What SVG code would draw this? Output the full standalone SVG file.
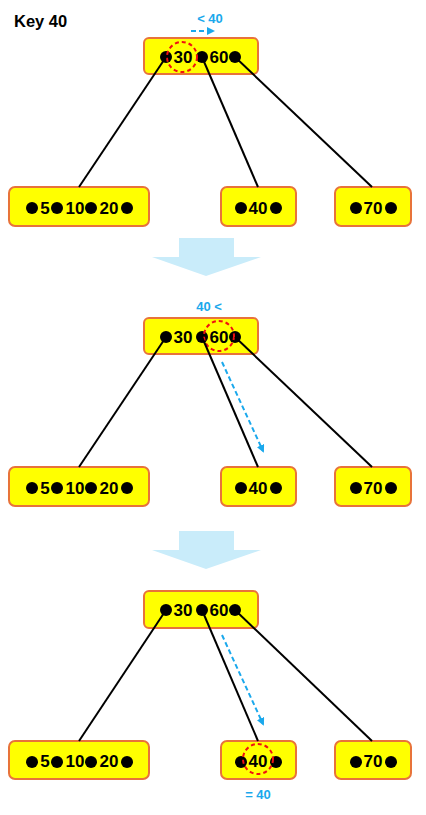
<svg xmlns="http://www.w3.org/2000/svg" width="426" height="815" viewBox="0 0 426 815">
<style>
.node{fill:#FFFF00;stroke:#E8733A;stroke-width:2}
.edge{stroke:#000;stroke-width:2;fill:none}
.dot{fill:#000}
.t{font-family:"Liberation Sans",Arial,sans-serif;font-weight:bold;font-size:17px;fill:#000;text-anchor:middle}
.lbl{font-family:"Liberation Sans",Arial,sans-serif;font-weight:bold;font-size:13px;fill:#1AA8EC;text-anchor:middle}
.hl{fill:none;stroke:#F01010;stroke-width:2;stroke-dasharray:4,3}
.ptr{stroke:#1AA8EC;stroke-width:2;stroke-dasharray:5,3;fill:none}
.big{fill:#C9ECFA}
</style>
<defs>
<marker id="ah" markerWidth="8" markerHeight="8" refX="6" refY="4" orient="auto" markerUnits="userSpaceOnUse">
<path d="M0,0 L8,4 L0,8 Z" fill="#1AA8EC"/>
</marker>
</defs>
<rect width="426" height="815" fill="#fff"/>
<text x="14" y="27" font-family="Liberation Sans,Arial,sans-serif" font-weight="bold" font-size="16.5">Key 40</text>

<!-- Panel 1 -->
<g id="p1-root">
<rect class="node" x="144" y="38" width="114" height="36" rx="5"/>
<circle class="dot" cx="166" cy="57" r="6"/><circle class="dot" cx="202" cy="57" r="6"/><circle class="dot" cx="235" cy="57" r="6"/>
<text class="t" x="183" y="63">30</text><text class="t" x="219" y="63">60</text>
<circle class="hl" cx="182" cy="57" r="15"/>
</g>
<g id="p1-leaf1">
<rect class="node" x="9" y="187" width="140" height="39" rx="6"/>
<circle class="dot" cx="32" cy="208" r="6"/><circle class="dot" cx="57" cy="208" r="6"/><circle class="dot" cx="91" cy="208" r="6"/><circle class="dot" cx="127" cy="208" r="6"/>
<text class="t" x="45" y="214">5</text><text class="t" x="75" y="214">10</text><text class="t" x="109" y="214">20</text>
</g>
<g id="p1-leaf2">
<rect class="node" x="221" y="187" width="75" height="39" rx="6"/>
<circle class="dot" cx="241" cy="208" r="6"/><circle class="dot" cx="276" cy="208" r="6"/>
<text class="t" x="258" y="214">40</text>
</g>
<g id="p1-leaf3">
<rect class="node" x="335" y="187" width="76" height="39" rx="6"/>
<circle class="dot" cx="356" cy="208" r="6"/><circle class="dot" cx="391" cy="208" r="6"/>
<text class="t" x="373" y="214">70</text>
</g>
<g id="connectors1">
<line class="edge" x1="166" y1="57" x2="79" y2="187"/>
<line class="edge" x1="202" y1="57" x2="258" y2="187"/>
<line class="edge" x1="235" y1="57" x2="372" y2="187"/>
</g>
<g id="p1-label">
<text class="lbl" x="210" y="23">&lt; 40</text>
<line class="ptr" x1="191" y1="31" x2="213" y2="31" marker-end="url(#ah)"/>
</g>
<polygon id="arrow1" class="big" points="179,238 234,238 234,257 261,257 206,276 152,257 179,257"/>

<!-- Panel 2 -->
<g id="p2-root">
<rect class="node" x="144" y="318" width="114" height="36" rx="5"/>
<circle class="dot" cx="166" cy="337" r="6"/><circle class="dot" cx="202" cy="337" r="6"/><circle class="dot" cx="235" cy="337" r="6"/>
<text class="t" x="183" y="343">30</text><text class="t" x="219" y="343">60</text>
<circle class="hl" cx="219" cy="336" r="15"/>
</g>
<g id="p2-leaf1">
<rect class="node" x="9" y="467" width="140" height="39" rx="6"/>
<circle class="dot" cx="32" cy="488" r="6"/><circle class="dot" cx="57" cy="488" r="6"/><circle class="dot" cx="91" cy="488" r="6"/><circle class="dot" cx="127" cy="488" r="6"/>
<text class="t" x="45" y="494">5</text><text class="t" x="75" y="494">10</text><text class="t" x="109" y="494">20</text>
</g>
<g id="p2-leaf2">
<rect class="node" x="221" y="467" width="75" height="39" rx="6"/>
<circle class="dot" cx="241" cy="488" r="6"/><circle class="dot" cx="276" cy="488" r="6"/>
<text class="t" x="258" y="494">40</text>
</g>
<g id="p2-leaf3">
<rect class="node" x="335" y="467" width="76" height="39" rx="6"/>
<circle class="dot" cx="356" cy="488" r="6"/><circle class="dot" cx="391" cy="488" r="6"/>
<text class="t" x="373" y="494">70</text>
</g>
<g id="connectors2">
<line class="edge" x1="166" y1="337" x2="79" y2="467"/>
<line class="edge" x1="202" y1="337" x2="258" y2="467"/>
<line class="edge" x1="235" y1="337" x2="372" y2="467"/>
</g>
<g id="p2-label">
<text class="lbl" x="209" y="311">40 &lt;</text>
<line class="ptr" x1="222" y1="362" x2="263" y2="451" marker-end="url(#ah)"/>
</g>
<polygon id="arrow2" class="big" points="179,531 234,531 234,550 261,550 206,569 152,550 179,550"/>

<!-- Panel 3 -->
<g id="p3-root">
<rect class="node" x="144" y="591" width="114" height="37" rx="5"/>
<circle class="dot" cx="166" cy="610" r="6"/><circle class="dot" cx="202" cy="610" r="6"/><circle class="dot" cx="235" cy="610" r="6"/>
<text class="t" x="183" y="616">30</text><text class="t" x="219" y="616">60</text>
</g>
<g id="p3-leaf1">
<rect class="node" x="9" y="741" width="140" height="38" rx="6"/>
<circle class="dot" cx="32" cy="762" r="6"/><circle class="dot" cx="57" cy="762" r="6"/><circle class="dot" cx="91" cy="762" r="6"/><circle class="dot" cx="127" cy="762" r="6"/>
<text class="t" x="45" y="767">5</text><text class="t" x="75" y="767">10</text><text class="t" x="109" y="767">20</text>
</g>
<g id="p3-leaf2">
<rect class="node" x="221" y="741" width="75" height="38" rx="6"/>
<circle class="dot" cx="241" cy="762" r="6"/><circle class="dot" cx="276" cy="762" r="6"/>
<text class="t" x="258" y="767">40</text>
<circle class="hl" cx="258" cy="759" r="15"/>
</g>
<g id="p3-leaf3">
<rect class="node" x="335" y="741" width="76" height="38" rx="6"/>
<circle class="dot" cx="356" cy="762" r="6"/><circle class="dot" cx="391" cy="762" r="6"/>
<text class="t" x="373" y="767">70</text>
</g>
<g id="connectors3">
<line class="edge" x1="166" y1="610" x2="79" y2="741"/>
<line class="edge" x1="202" y1="610" x2="258" y2="741"/>
<line class="edge" x1="235" y1="610" x2="372" y2="741"/>
</g>
<g id="p3-label">
<line class="ptr" x1="222" y1="635" x2="263" y2="724" marker-end="url(#ah)"/>
<text class="lbl" x="258" y="799">= 40</text>
</g>
</svg>
